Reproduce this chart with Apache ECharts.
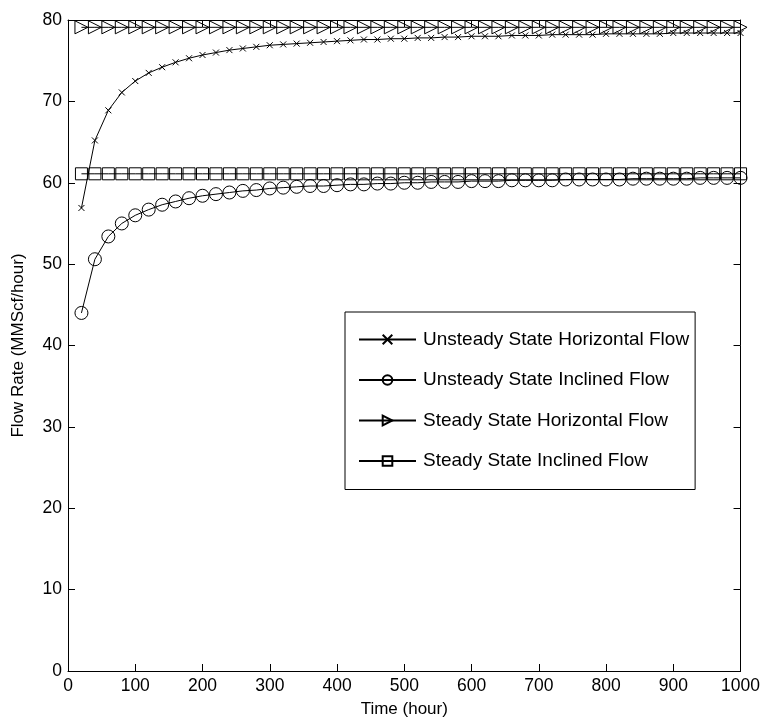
<!DOCTYPE html>
<html>
<head>
<meta charset="utf-8">
<script src="https://cdn.jsdelivr.net/npm/echarts@6/dist/echarts.min.js"></script>
<style>
html,body{margin:0;padding:0;background:#fff;}
#chart{width:763px;height:723px;}
</style>
</head>
<body>
<div id="chart"></div>
<script>
const timeHours = [20,40,60,80,100,120,140,160,180,200,220,240,260,280,300,320,340,360,380,400,420,440,460,480,500,520,540,560,580,600,620,640,660,680,700,720,740,760,780,800,820,840,860,880,900,920,940,960,980,1000];
const unsteadyHorizontal = [56.9,65.2,68.9,71.1,72.5,73.5,74.2,74.8,75.3,75.7,76.0,76.3,76.5,76.7,76.9,77.0,77.1,77.2,77.3,77.4,77.5,77.6,77.6,77.7,77.7,77.8,77.8,77.9,77.9,78.0,78.0,78.0,78.1,78.1,78.1,78.2,78.2,78.2,78.2,78.3,78.3,78.3,78.3,78.3,78.4,78.4,78.4,78.4,78.4,78.4];
const unsteadyInclined = [44.0,50.6,53.4,55.0,56.0,56.7,57.3,57.7,58.1,58.4,58.6,58.8,59.0,59.1,59.3,59.4,59.5,59.6,59.6,59.7,59.8,59.8,59.9,59.9,60.0,60.0,60.1,60.1,60.1,60.2,60.2,60.2,60.3,60.3,60.3,60.3,60.4,60.4,60.4,60.4,60.4,60.5,60.5,60.5,60.5,60.5,60.6,60.6,60.6,60.6];
const steadyHorizontal = [79.1,79.1,79.1,79.1,79.1,79.1,79.1,79.1,79.1,79.1,79.1,79.1,79.1,79.1,79.1,79.1,79.1,79.1,79.1,79.1,79.1,79.1,79.1,79.1,79.1,79.1,79.1,79.1,79.1,79.1,79.1,79.1,79.1,79.1,79.1,79.1,79.1,79.1,79.1,79.1,79.1,79.1,79.1,79.1,79.1,79.1,79.1,79.1,79.1,79.1];
const steadyInclined = [61.1,61.1,61.1,61.1,61.1,61.1,61.1,61.1,61.1,61.1,61.1,61.1,61.1,61.1,61.1,61.1,61.1,61.1,61.1,61.1,61.1,61.1,61.1,61.1,61.1,61.1,61.1,61.1,61.1,61.1,61.1,61.1,61.1,61.1,61.1,61.1,61.1,61.1,61.1,61.1,61.1,61.1,61.1,61.1,61.1,61.1,61.1,61.1,61.1,61.1];
const seriesNames = ['Unsteady State Horizontal Flow','Unsteady State Inclined Flow','Steady State Horizontal Flow','Steady State Inclined Flow'];
const xTicks = {min:0, max:1000, step:100};
const yTicks = {min:0, max:80, step:10};
const xTitle = 'Time (hour)';
const yTitle = 'Flow Rate (MMScf/hour)';

const pairs = vals => timeHours.map((t,i)=>[t, vals[i]]);
const FONT = 'Liberation Sans, Arial, sans-serif';

const markerDefs = [
  {symbol:'path://M0,0L10,10M10,0L0,10', size:6},
  {symbol:'circle', size:13},
  {symbol:'path://M0,0L10,5L0,10Z', size:13},
  {symbol:'rect', size:12}
];
const seriesValues = [unsteadyHorizontal, unsteadyInclined, steadyHorizontal, steadyInclined];

const chart = echarts.init(document.getElementById('chart'), null, {renderer:'canvas'});
const axisCommon = {
  type:'value',
  axisLine:{show:true, onZero:false, lineStyle:{color:'#000', width:1}},
  axisTick:{show:true, inside:true, length:7, lineStyle:{color:'#000'}},
  splitLine:{show:false}
};
const plainLabel = v => String(v);
chart.setOption({
  animation:false,
  backgroundColor:'#fff',
  grid:{left:68, right:22, top:20, bottom:52, containLabel:false},
  xAxis:[
    Object.assign({}, axisCommon, {min:xTicks.min, max:xTicks.max, interval:xTicks.step, position:'bottom',
      name:xTitle, nameLocation:'middle', nameGap:30,
      nameTextStyle:{fontFamily:FONT, fontSize:17, color:'#000'},
      axisLabel:{fontFamily:FONT, fontSize:17.5, color:'#000', margin:6, formatter:plainLabel}}),
    Object.assign({}, axisCommon, {min:xTicks.min, max:xTicks.max, interval:xTicks.step, position:'top',
      axisLabel:{show:false}})
  ],
  yAxis:[
    Object.assign({}, axisCommon, {min:yTicks.min, max:yTicks.max, interval:yTicks.step, position:'left',
      name:yTitle, nameLocation:'middle', nameGap:41,
      nameTextStyle:{fontFamily:FONT, fontSize:17, color:'#000'},
      axisLabel:{fontFamily:FONT, fontSize:17.5, color:'#000', margin:6, formatter:plainLabel}}),
    Object.assign({}, axisCommon, {min:yTicks.min, max:yTicks.max, interval:yTicks.step, position:'right',
      axisLabel:{show:false}})
  ],
  legend:{
    orient:'vertical', left:345, top:312,
    backgroundColor:'#fff', borderColor:'#000', borderWidth:1,
    padding:[18,6,19,13], itemGap:21.5, itemWidth:57, itemHeight:12,
    textStyle:{fontFamily:FONT, fontSize:19, color:'#000', padding:[0,0,0,2]},
    data:seriesNames
  },
  series: seriesNames.map((name,i)=>({
    name:name, type:'line', xAxisIndex:0, yAxisIndex:0,
    data:pairs(seriesValues[i]),
    symbol:markerDefs[i].symbol, symbolSize:markerDefs[i].size,
    showAllSymbol:true,
    lineStyle:{color:'#000', width:1},
    itemStyle:{color:'rgba(0,0,0,0)', borderColor:'#000', borderWidth:1},
    emphasis:{disabled:true}
  }))
});
</script>
</body>
</html>
